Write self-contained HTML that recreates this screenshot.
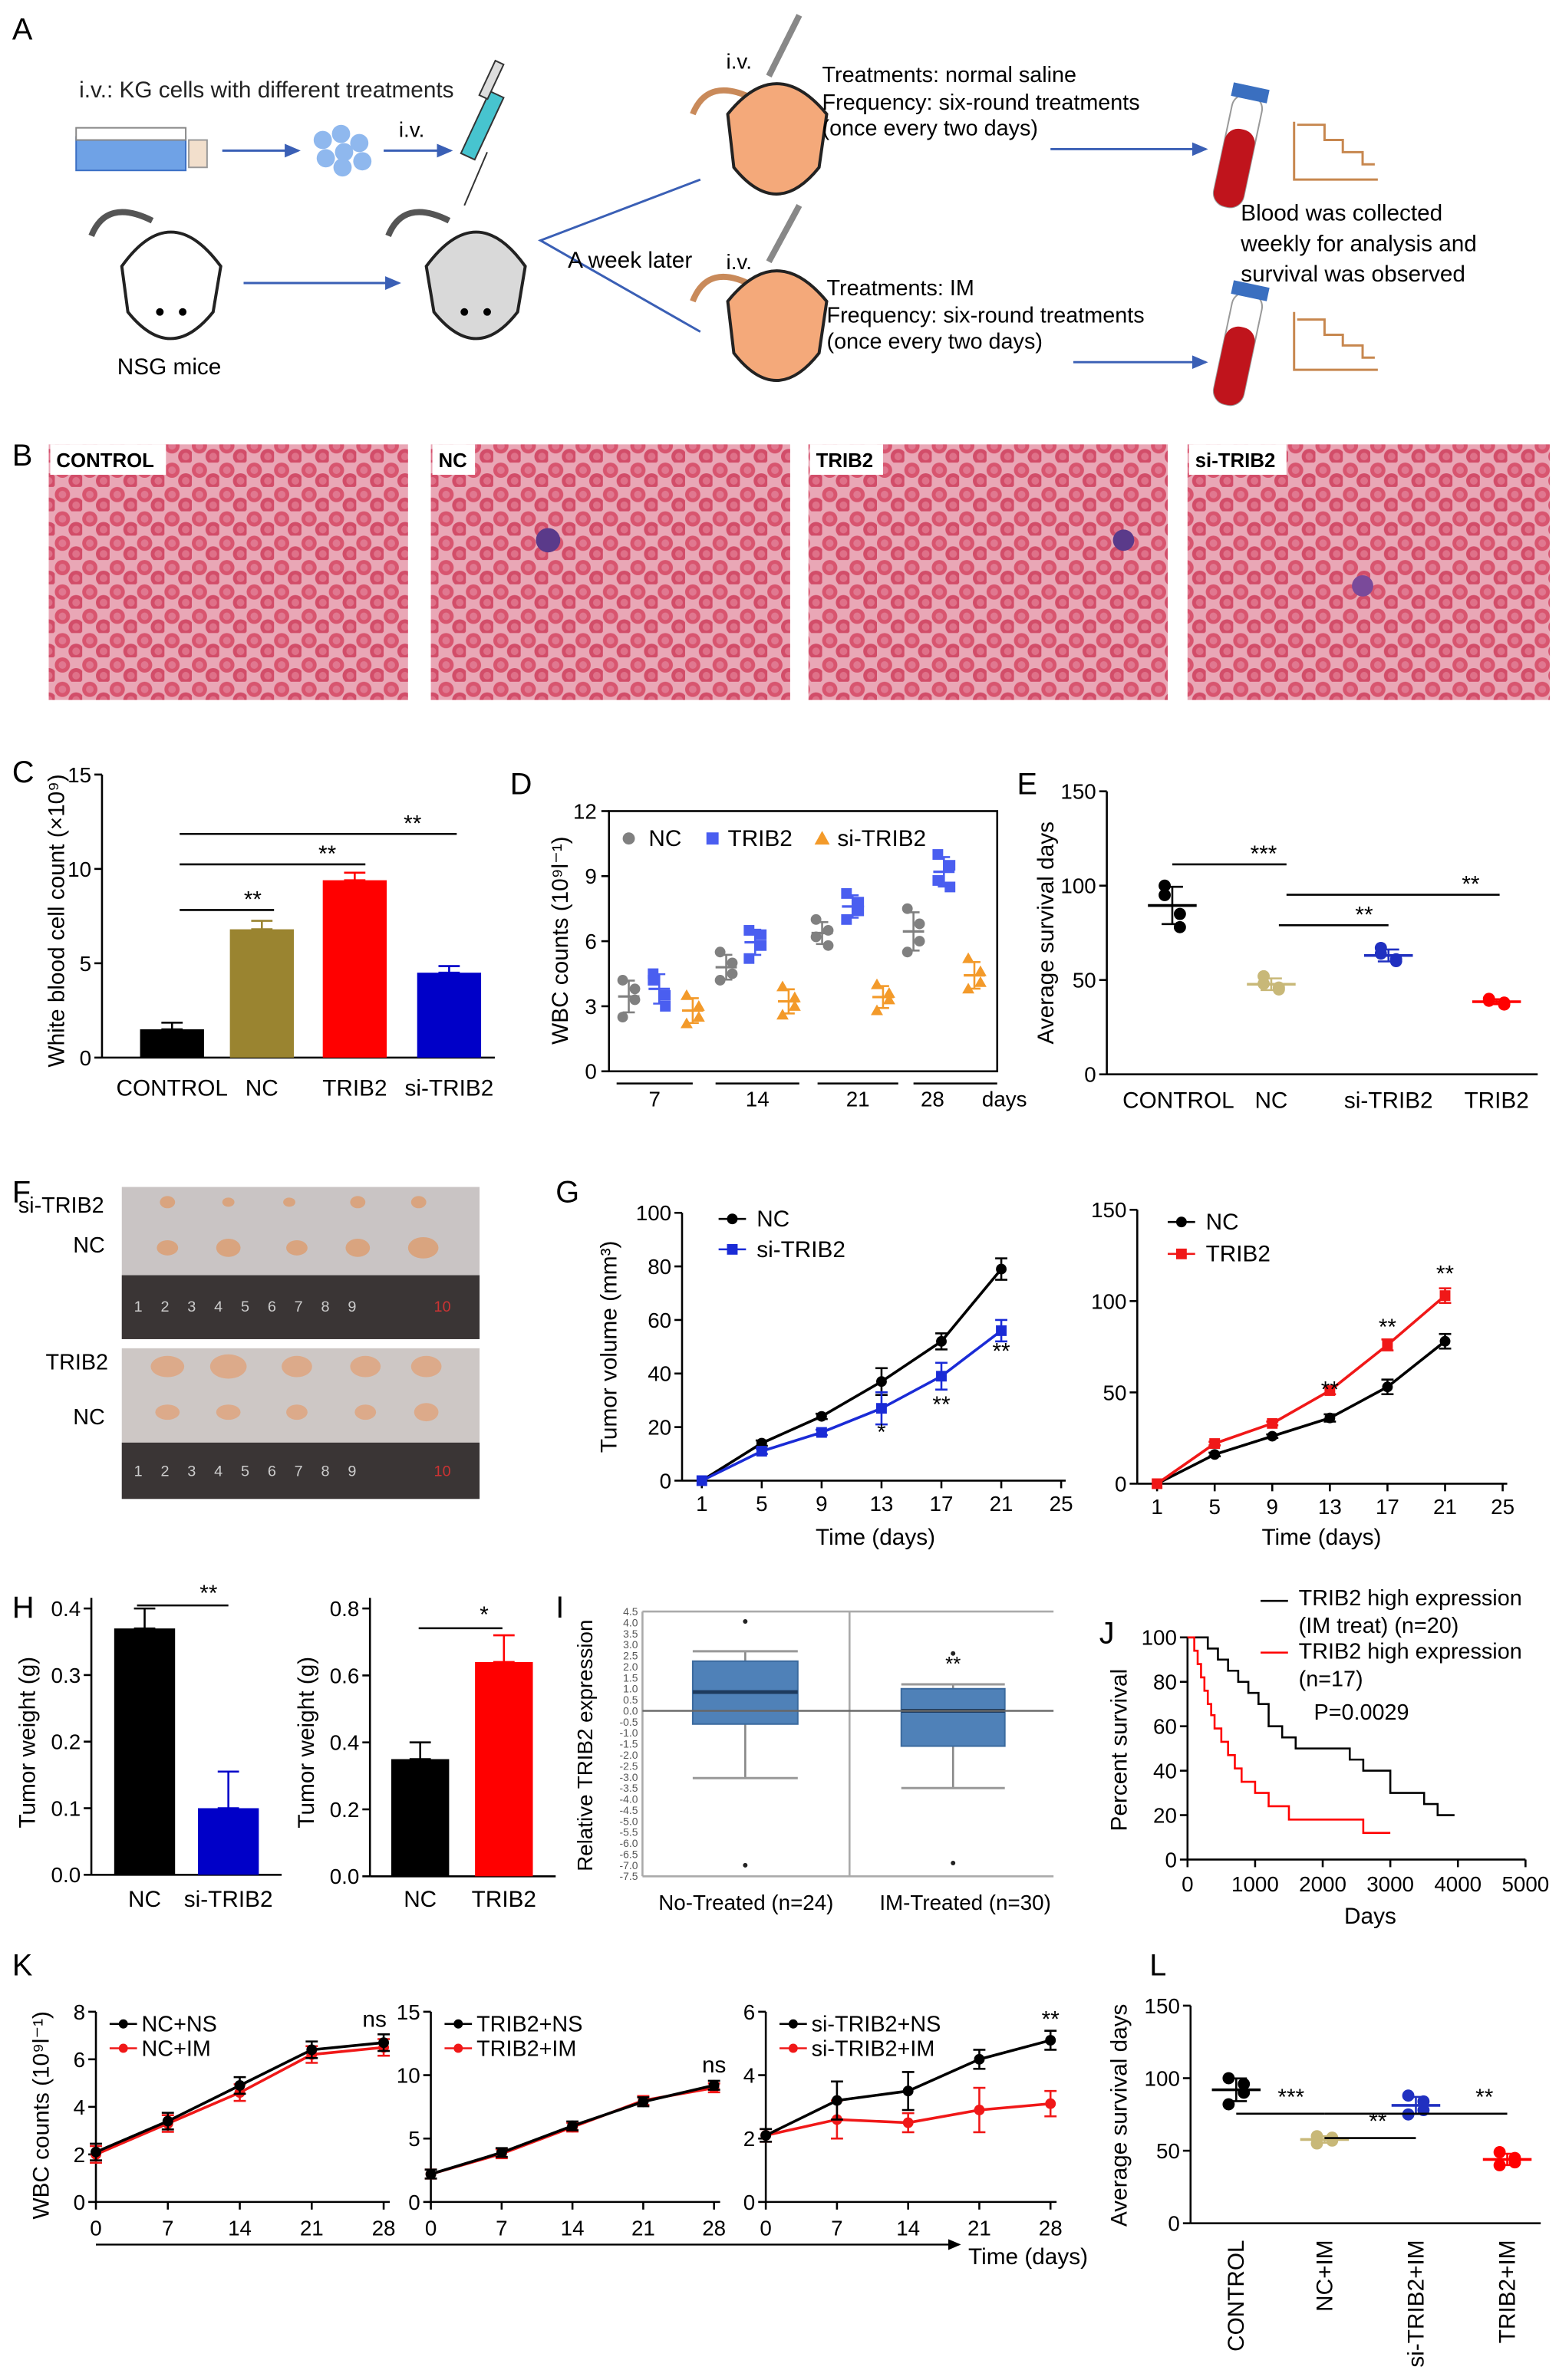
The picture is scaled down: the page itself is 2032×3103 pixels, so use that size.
<!DOCTYPE html>
<html><head><meta charset="utf-8"><style>
html,body{margin:0;padding:0;background:#fff}
svg{display:block;font-family:"Liberation Sans",Arial,sans-serif}
</style></head><body>
<svg id="fig" xmlns="http://www.w3.org/2000/svg" width="2032" height="3103" viewBox="0 0 1024 1564" preserveAspectRatio="none">
<defs>
<pattern id="rbc" width="18" height="16" patternUnits="userSpaceOnUse">
<rect width="18" height="16" fill="#e9a7b6"/>
<circle cx="5" cy="5" r="5" fill="#d8556f"/><circle cx="5" cy="5" r="2.5" fill="#e07890"/>
<circle cx="14" cy="12" r="5" fill="#d24d69"/><circle cx="14" cy="12" r="2.5" fill="#df7189"/>
</pattern>
<marker id="arr" markerWidth="8" markerHeight="8" refX="6" refY="3" orient="auto"><path d="M0,0 L7,3 L0,6 z" fill="#3a5fb5"/></marker>
<marker id="arrk" markerWidth="8" markerHeight="8" refX="6" refY="3" orient="auto"><path d="M0,0 L7,3 L0,6 z" fill="#000"/></marker>
</defs>

<!-- Panel A -->
<g>
<text x="8" y="26" font-size="20">A</text>
<text x="52" y="64" font-size="15" fill="#222">i.v.: KG cells with different treatments</text>
<g><rect x="50" y="90" width="72" height="22" fill="#6fa2e6" stroke="#3b6fc4"/><rect x="50" y="84" width="72" height="8" fill="#fff" stroke="#888"/><rect x="124" y="92" width="12" height="18" fill="#f2dfcc" stroke="#999"/></g>
<line x1="146" y1="99" x2="196" y2="99" stroke="#3a5fb5" stroke-width="1.5" marker-end="url(#arr)"/>
<g fill="#8fb8ee"><circle cx="212" cy="92" r="6"/><circle cx="224" cy="88" r="6"/><circle cx="236" cy="94" r="6"/><circle cx="214" cy="104" r="6"/><circle cx="226" cy="100" r="6"/><circle cx="238" cy="106" r="6"/><circle cx="225" cy="110" r="6"/></g>
<text x="262" y="90" font-size="14">i.v.</text>
<line x1="252" y1="99" x2="296" y2="99" stroke="#3a5fb5" stroke-width="1.5" marker-end="url(#arr)"/>
<g><line x1="305" y1="135" x2="320" y2="100" stroke="#333"/><rect x="312" y="60" width="10" height="45" fill="#47c4cf" stroke="#333" transform="rotate(25 317 82)"/><rect x="320" y="40" width="6" height="25" fill="#ddd" stroke="#333" transform="rotate(25 323 52)"/></g>
<g><path d="M60,155 Q70,130 100,145" stroke="#555" stroke-width="4" fill="none"/><path d="M80,175 Q112,130 145,175 L140,205 Q112,240 84,205 Z" fill="#fff" stroke="#222" stroke-width="2"/><circle cx="105" cy="205" r="2.5"/><circle cx="120" cy="205" r="2.5"/></g>
<text x="77" y="246" font-size="15">NSG mice</text>
<line x1="160" y1="186" x2="262" y2="186" stroke="#3a5fb5" stroke-width="1.5" marker-end="url(#arr)"/>
<g><path d="M255,155 Q265,130 295,145" stroke="#555" stroke-width="4" fill="none"/><path d="M280,175 Q313,130 345,175 L340,205 Q313,240 285,205 Z" fill="#d9d9d9" stroke="#222" stroke-width="2"/><circle cx="305" cy="205" r="2.5"/><circle cx="320" cy="205" r="2.5"/></g>
<polyline points="460,118 355,158 460,218" fill="none" stroke="#3a5fb5" stroke-width="1.5"/>
<text x="373" y="176" font-size="15">A week later</text>
<text x="477" y="45" font-size="14">i.v.</text>
<text x="477" y="177" font-size="14">i.v.</text>
<g><path d="M455,75 Q465,50 495,65" stroke="#c98a5a" stroke-width="4" fill="none"/><path d="M478,75 Q510,35 543,75 L538,110 Q510,145 482,110 Z" fill="#f4a97a" stroke="#222" stroke-width="2"/><line x1="505" y1="50" x2="525" y2="10" stroke="#888" stroke-width="4"/></g>
<g><path d="M455,198 Q465,172 495,188" stroke="#c98a5a" stroke-width="4" fill="none"/><path d="M478,198 Q510,158 543,198 L538,232 Q510,268 482,232 Z" fill="#f4a97a" stroke="#222" stroke-width="2"/><line x1="505" y1="172" x2="525" y2="135" stroke="#888" stroke-width="4"/></g>
<g font-size="14.5"><text x="540" y="54">Treatments: normal saline</text><text x="540" y="72">Frequency: six-round treatments</text><text x="540" y="89">(once every two days)</text></g>
<g font-size="14.5"><text x="543" y="194">Treatments: IM</text><text x="543" y="212">Frequency: six-round treatments</text><text x="543" y="229">(once every two days)</text></g>
<line x1="690" y1="98" x2="792" y2="98" stroke="#3a5fb5" stroke-width="1.5" marker-end="url(#arr)"/>
<line x1="705" y1="238" x2="792" y2="238" stroke="#3a5fb5" stroke-width="1.5" marker-end="url(#arr)"/>
<g transform="rotate(12 815 95)"><rect x="804" y="62" width="20" height="75" rx="9" fill="#fff" stroke="#999"/><rect x="804" y="85" width="20" height="52" rx="9" fill="#c0141c"/><rect x="802" y="56" width="24" height="9" fill="#3a6fc0"/></g>
<g transform="rotate(12 815 225)"><rect x="804" y="192" width="20" height="75" rx="9" fill="#fff" stroke="#999"/><rect x="804" y="215" width="20" height="52" rx="9" fill="#c0141c"/><rect x="802" y="186" width="24" height="9" fill="#3a6fc0"/></g>
<polyline points="850,80 850,118 905,118" fill="none" stroke="#c7874f" stroke-width="1.5"/>
<polyline points="852,82 870,82 870,92 882,92 882,100 895,100 895,108 903,108" fill="none" stroke="#c7874f" stroke-width="1.5"/>
<polyline points="850,205 850,243 905,243" fill="none" stroke="#c7874f" stroke-width="1.5"/>
<polyline points="852,210 870,210 870,220 882,220 882,227 895,227 895,235 903,235" fill="none" stroke="#c7874f" stroke-width="1.5"/>
<g font-size="15"><text x="815" y="145">Blood was collected</text><text x="815" y="165">weekly for analysis and</text><text x="815" y="185">survival was observed</text></g>
</g>

<!-- Panel B -->
<text x="8" y="306" font-size="20">B</text>
<g><rect x="32" y="292" width="236" height="168" fill="url(#rbc)"/><rect x="33" y="292" width="76" height="20" fill="#fff"/><text x="37" y="307" font-size="13" font-weight="bold">CONTROL</text></g>
<g><rect x="283" y="292" width="236" height="168" fill="url(#rbc)"/><rect x="284" y="292" width="28" height="20" fill="#fff"/><text x="288" y="307" font-size="13" font-weight="bold">NC</text><circle cx="360" cy="355" r="8" fill="#5a3a8a"/></g>
<g><rect x="531" y="292" width="236" height="168" fill="url(#rbc)"/><rect x="532" y="292" width="48" height="20" fill="#fff"/><text x="536" y="307" font-size="13" font-weight="bold">TRIB2</text><circle cx="738" cy="355" r="7" fill="#5a3a8a"/></g>
<g><rect x="780" y="292" width="238" height="168" fill="url(#rbc)"/><rect x="781" y="292" width="64" height="20" fill="#fff"/><text x="785" y="307" font-size="13" font-weight="bold">si-TRIB2</text><circle cx="895" cy="385" r="7" fill="#7a4a9a"/></g>

<!-- Panel F photos -->
<text x="8" y="790" font-size="20">F</text>
<g><rect x="80" y="780" width="235" height="100" fill="#c9c4c4"/><rect x="80" y="838" width="235" height="42" fill="#3a3535"/><g fill="#d9a47f"><ellipse cx="110" cy="790" rx="5" ry="4"/><ellipse cx="150" cy="790" rx="4" ry="3"/><ellipse cx="190" cy="790" rx="4" ry="3"/><ellipse cx="235" cy="790" rx="5" ry="4"/><ellipse cx="275" cy="790" rx="5" ry="4"/><ellipse cx="110" cy="820" rx="7" ry="5"/><ellipse cx="150" cy="820" rx="8" ry="6"/><ellipse cx="195" cy="820" rx="7" ry="5"/><ellipse cx="235" cy="820" rx="8" ry="6"/><ellipse cx="278" cy="820" rx="10" ry="7"/></g><text x="88" y="862" font-size="10" fill="#ccc" letter-spacing="12">123456789</text><text x="285" y="862" font-size="10" fill="#c33">10</text></g>
<g><rect x="80" y="886" width="235" height="99" fill="#cdc7c5"/><rect x="80" y="948" width="235" height="37" fill="#3a3535"/><g fill="#dcaa8a"><ellipse cx="110" cy="898" rx="11" ry="7"/><ellipse cx="150" cy="898" rx="12" ry="8"/><ellipse cx="195" cy="898" rx="10" ry="7"/><ellipse cx="240" cy="898" rx="10" ry="7"/><ellipse cx="280" cy="898" rx="10" ry="7"/><ellipse cx="110" cy="928" rx="8" ry="5"/><ellipse cx="150" cy="928" rx="8" ry="5"/><ellipse cx="195" cy="928" rx="7" ry="5"/><ellipse cx="240" cy="928" rx="7" ry="5"/><ellipse cx="280" cy="928" rx="8" ry="6"/></g><text x="88" y="970" font-size="10" fill="#ccc" letter-spacing="12">123456789</text><text x="285" y="970" font-size="10" fill="#c33">10</text></g>
<g font-size="14.5"><text x="12" y="797">si-TRIB2</text><text x="48" y="823">NC</text><text x="30" y="900">TRIB2</text><text x="48" y="936">NC</text></g>

<g id="charts"></g>
</svg>
<script>
// ---------- data ----------
const cCats=['CONTROL','NC','TRIB2','si-TRIB2'];
const cVals=[1.5,6.8,9.4,4.5];
const cErr=[0.35,0.45,0.4,0.35];
const cTicks=[0,5,10,15];

const dDays=['7','14','21','28'];
const dNC=[[4.2,3.3,2.5,3.8],[5.5,4.5,4.2,5.0],[7.0,5.8,6.2,6.5],[7.5,6.0,5.5,6.8]];
const dTRIB2=[[4.5,3.5,4.2,3.0],[6.5,5.8,5.2,6.3],[8.2,7.4,7.0,7.8],[10.0,8.5,8.8,9.5]];
const dSI=[[3.5,2.5,2.2,3.0],[3.9,3.0,2.6,3.4],[4.0,3.3,2.8,3.6],[5.2,4.1,3.8,4.6]];
const dTicks=[0,3,6,9,12];

const eCats=['CONTROL','NC','si-TRIB2','TRIB2'];
const ePts=[[100,85,95,78],[52,46,48,45],[67,61,64,60],[40,37,39,38]];
const eTicks=[0,50,100,150];

const gDays=[1,5,9,13,17,21];
const gNC=[0,14,24,37,52,79];
const gNCerr=[0,1,1,5,3,4];
const gSI=[0,11,18,27,39,56];
const gSIerr=[0,1,1,6,5,4];
const gNC2=[0,16,26,36,53,78];
const gNC2err=[0,1,1,2,4,4];
const gTR=[0,22,33,51,76,103];
const gTRerr=[0,1,1,2,3,4];

const hVals1=[0.37,0.10];
const hErr1=[0.03,0.055];
const hVals2=[0.35,0.64];
const hErr2=[0.05,0.08];

const iBox1=[-3.05,-0.6,0.85,2.25,2.7];
const iOut1=[4.05,-7.0];
const iBox2=[-3.5,-1.6,0.0,1.0,1.2];
const iOut2=[2.6,-6.9];

const jT1=[0,300,450,600,750,900,1050,1200,1400,1600,2400,2600,3000,3500,3700,3950];
const jS1=[100,95,90,85,80,75,70,60,55,50,45,40,30,25,20,20];
const jT2=[0,100,150,200,250,300,350,400,500,600,700,800,1000,1200,1500,2600,3000];
const jS2=[100,94,88,82,76,70,65,59,53,47,41,35,30,24,18,12,12];

const kDays=[0,7,14,21,28];
const kNCNS=[2.1,3.4,4.9,6.4,6.7];
const kNCIM=[2.0,3.3,4.6,6.2,6.5];
const kTRNS=[2.2,3.9,6.0,7.9,9.2];
const kTRIM=[2.2,3.8,5.9,8.0,9.0];
const kSINS=[2.1,3.2,3.5,4.5,5.1];
const kSINSerr=[0.2,0.6,0.6,0.3,0.3];
const kSIIM=[2.1,2.6,2.5,2.9,3.1];
const kSIIMerr=[0.2,0.6,0.3,0.7,0.4];

const lCats=['CONTROL','NC+IM','si-TRIB2+IM','TRIB2+IM'];
const lPts=[[100,90,82,96],[60,57,55,59],[88,78,75,84],[49,42,40,45]];

// ---------- helpers ----------
const NS='http://www.w3.org/2000/svg';
const root=document.getElementById('charts');
function mk(tag,a,name,parent){
  const el=document.createElementNS(NS,tag);
  for(const k in a) el.setAttribute(k,a[k]);
  
  
  (parent||root).appendChild(el);return el;
}
function tx(x,y,s,size,name,opt){
  opt=opt||{};
  const a={x:x,y:y,'font-size':size,'text-anchor':opt.anchor||'start',fill:opt.fill||'#000'};
  if(opt.rot) a.transform='rotate('+opt.rot+' '+x+' '+y+')';
  if(opt.weight) a['font-weight']=opt.weight;
  const t=mk('text',a,name,opt.parent);t.textContent=s;return t;
}
function ln(x1,y1,x2,y2,name,col,w){return mk('line',{x1:x1,y1:y1,x2:x2,y2:y2,stroke:col||'#000','stroke-width':w||1.3},name);}
function lin(d0,d1,r0,r1){return v=>r0+(v-d0)*(r1-r0)/(d1-d0);}
function yAxis(x,y0,y1,ticks,sc,name,size,fmt){
  ln(x,y0,x,y1,name+'-line');
  ticks.forEach(t=>{const y=sc(t);ln(x-5,y,x,y,name+'-tick');tx(x-7,y+5,fmt?fmt(t):String(t),size||14,name+'-label',{anchor:'end'});});
}
function mean(a){return a.reduce((s,v)=>s+v,0)/a.length;}
function sd(a){const m=mean(a);return Math.sqrt(a.reduce((s,v)=>s+(v-m)*(v-m),0)/(a.length-1));}
function errbar(x,ym,yl,yh,w,col,name){ln(x,yl,x,yh,name,col);ln(x-w,yl,x+w,yl,name,col);ln(x-w,yh,x+w,yh,name,col);}

// ---------- Panel C ----------
tx(8,514,'C',20,'panel-label-c');
{const y=lin(0,15,695,509);yAxis(67,695,509,cTicks,y,'c-y-axis',14);
ln(67,695,325,695,'c-x-axis');
const xs=[113,172,233,295];const cols=['#000','#9a8430','#f00','#0000c8'];
cCats.forEach((c,i)=>{mk('rect',{x:xs[i]-21,y:y(cVals[i]),width:42,height:695-y(cVals[i]),fill:cols[i]},'bar-'+c.toLowerCase());
errbar(xs[i],0,y(cVals[i]),y(cVals[i]+cErr[i]),7,cols[i],'c-error-bar');
tx(xs[i],720,c,15,'c-x-label',{anchor:'middle'});});
ln(118,598,180,598,'c-sig-line');tx(166,596,'**',15,'c-sig-mark',{anchor:'middle'});
ln(118,568,240,568,'c-sig-line');tx(215,566,'**',15,'c-sig-mark',{anchor:'middle'});
ln(118,548,300,548,'c-sig-line');tx(271,546,'**',15,'c-sig-mark',{anchor:'middle'});
tx(42,605,'White blood cell count (×10⁹)',15,'c-y-title',{anchor:'middle',rot:-90});}

// ---------- Panel D ----------
tx(335,522,'D',20,'panel-label-d');
{const y=lin(0,12,704,533);
mk('rect',{x:400,y:533,width:255,height:171,fill:'none',stroke:'#000','stroke-width':1.3},'d-frame');
dTicks.forEach(t=>{ln(395,y(t),400,y(t),'d-tick');tx(392,y(t)+5,String(t),14,'d-y-label',{anchor:'end'});});
const gx=[[413,433,455],[477,496,518],[540,560,580],[600,620,640]];
const ul=[[405,455],[470,525],[537,590],[600,655]];
dDays.forEach((d,i)=>{ln(ul[i][0],712,ul[i][1],712,'d-group-underline');tx((ul[i][0]+ul[i][1])/2-(i==3?15:0),727,d,14,'d-x-label',{anchor:'middle'});
[[dNC,'#808080','circle'],[dTRIB2,'#4a5ef0','square'],[dSI,'#f39a2a','triangle']].forEach((s,j)=>{
const pts=s[0][i];const x=gx[i][j];const m=mean(pts),e=sd(pts);
pts.forEach((v,k)=>{const px=x+(k%2?4:-4),py=y(v);
if(s[2]=='circle')mk('circle',{cx:px,cy:py,r:3.5,fill:s[1]},'d-point');
else if(s[2]=='square')mk('rect',{x:px-3.5,y:py-3.5,width:7,height:7,fill:s[1]},'d-point');
else mk('path',{d:`M${px},${py-4} L${px+4},${py+3} L${px-4},${py+3}Z`,fill:s[1]},'d-point');});
ln(x-7,y(m),x+7,y(m),'d-mean',s[1],1.6);errbar(x,0,y(m-e),y(m+e),4,s[1],'d-error');});});
tx(645,727,'days',14,'d-days-label');
mk('circle',{cx:413,cy:551,r:4,fill:'#808080'},'d-legend-nc');tx(426,556,'NC',15,'d-legend-text');
mk('rect',{x:464,y:547,width:8,height:8,fill:'#4a5ef0'},'d-legend-trib2');tx(478,556,'TRIB2',15,'d-legend-text');
mk('path',{d:'M540,546 L545,555 L535,555Z',fill:'#f39a2a'},'d-legend-si');tx(550,556,'si-TRIB2',15,'d-legend-text');
tx(373,618,'WBC counts (10⁹l⁻¹)',15,'d-y-title',{anchor:'middle',rot:-90});}

// ---------- Panel E ----------
tx(668,522,'E',20,'panel-label-e');
{const y=lin(0,150,706,520);yAxis(727,706,520,eTicks,y,'e-y-axis',14);ln(727,706,1010,706,'e-x-axis');
const xs=[770,835,912,983];const cols=['#000','#c8b878','#2030c0','#f00'];
eCats.forEach((c,i)=>{const p=ePts[i],m=mean(p),e=sd(p);
p.forEach((v,k)=>mk('circle',{cx:xs[i]+(k%2?5:-5),cy:y(v),r:4,fill:cols[i]},'e-point'));
ln(xs[i]-16,y(m),xs[i]+16,y(m),'e-mean',cols[i],1.8);errbar(xs[i],0,y(m-e),y(m+e),7,cols[i],'e-error');
tx(xs[i]+(i==0?4:0),728,c,15,'e-x-label',{anchor:'middle'});});
ln(770,568,845,568,'e-sig-line');tx(830,566,'***',15,'e-sig-mark',{anchor:'middle'});
ln(840,608,912,608,'e-sig-line');tx(896,606,'**',15,'e-sig-mark',{anchor:'middle'});
ln(845,588,985,588,'e-sig-line');tx(966,586,'**',15,'e-sig-mark',{anchor:'middle'});
tx(692,613,'Average survival days',15,'e-y-title',{anchor:'middle',rot:-90});}

// ---------- Panel G ----------
tx(365,790,'G',20,'panel-label-g');
function lineChart(xsc,ysc,xs,ys,err,col,marker,name){
  let d='';xs.forEach((v,i)=>{d+=(i?'L':'M')+xsc(v)+','+ysc(ys[i]);});
  mk('path',{d:d,fill:'none',stroke:col,'stroke-width':1.8},name+'-line');
  xs.forEach((v,i)=>{const x=xsc(v),y=ysc(ys[i]);
  if(err&&err[i])errbar(x,0,ysc(ys[i]-err[i]),ysc(ys[i]+err[i]),4,col,name+'-error');
  if(marker=='sq')mk('rect',{x:x-3.5,y:y-3.5,width:7,height:7,fill:col},name+'-marker');
  else mk('circle',{cx:x,cy:y,r:3.5,fill:col},name+'-marker');});
}
{const y=lin(0,100,973,797),x=lin(1,25,461,697);yAxis(448,973,797,[0,20,40,60,80,100],y,'g1-y-axis',14);
ln(448,973,700,973,'g1-x-axis');[1,5,9,13,17,21,25].forEach(t=>{ln(x(t),973,x(t),978,'g1-x-tick');tx(x(t),993,String(t),14,'g1-x-label',{anchor:'middle'});});
lineChart(x,y,gDays,gNC,gNCerr,'#000','c','g1-nc');lineChart(x,y,gDays,gSI,gSIerr,'#1a2bd6','sq','g1-si');
tx(x(13),946,'*',15,'g1-sig',{anchor:'middle'});tx(x(17),928,'**',15,'g1-sig',{anchor:'middle'});tx(x(21),893,'**',15,'g1-sig',{anchor:'middle'});
ln(472,801,490,801,'g1-legend-nc');mk('circle',{cx:481,cy:801,r:3.5},'g1-legend-nc-marker');tx(497,806,'NC',15,'g1-legend-text');
ln(472,821,490,821,'g1-legend-si','#1a2bd6');mk('rect',{x:477.5,y:817.5,width:7,height:7,fill:'#1a2bd6'},'g1-legend-si-marker');tx(497,826,'si-TRIB2',15,'g1-legend-text');
tx(575,1015,'Time (days)',15,'g1-x-title',{anchor:'middle'});tx(405,885,'Tumor volume (mm³)',15,'g1-y-title',{anchor:'middle',rot:-90});}
{const y=lin(0,150,975,795),x=lin(1,25,760,987);yAxis(747,975,795,[0,50,100,150],y,'g2-y-axis',14);
ln(747,975,990,975,'g2-x-axis');[1,5,9,13,17,21,25].forEach(t=>{ln(x(t),975,x(t),980,'g2-x-tick');tx(x(t),995,String(t),14,'g2-x-label',{anchor:'middle'});});
lineChart(x,y,gDays,gNC2,gNC2err,'#000','c','g2-nc');lineChart(x,y,gDays,gTR,gTRerr,'#f01818','sq','g2-trib2');
tx(x(13),918,'**',15,'g2-sig',{anchor:'middle'});tx(x(17),877,'**',15,'g2-sig',{anchor:'middle'});tx(x(21),842,'**',15,'g2-sig',{anchor:'middle'});
ln(767,803,785,803,'g2-legend-nc');mk('circle',{cx:776,cy:803,r:3.5},'g2-legend-nc-marker');tx(792,808,'NC',15,'g2-legend-text');
ln(767,824,785,824,'g2-legend-trib2','#f01818');mk('rect',{x:772.5,y:820.5,width:7,height:7,fill:'#f01818'},'g2-legend-trib2-marker');tx(792,829,'TRIB2',15,'g2-legend-text');
tx(868,1015,'Time (days)',15,'g2-x-title',{anchor:'middle'});}

// ---------- Panel H ----------
tx(8,1063,'H',20,'panel-label-h');
{const y=lin(0,0.4,1232,1057);yAxis(60,1232,1050,[0,0.1,0.2,0.3,0.4],y,'h1-y-axis',14,t=>t.toFixed(1));ln(60,1232,185,1232,'h1-x-axis');
const xs=[95,150],cols=['#000','#0000c8'],labs=['NC','si-TRIB2'];
hVals1.forEach((v,i)=>{mk('rect',{x:xs[i]-20,y:y(v),width:40,height:1232-y(v),fill:cols[i]},'h1-bar-'+labs[i].toLowerCase());errbar(xs[i],0,y(v),y(v+hErr1[i]),7,cols[i],'h1-error');tx(xs[i],1253,labs[i],15,'h1-x-label',{anchor:'middle'});});
ln(90,1055,150,1055,'h1-sig-line');tx(137,1052,'**',15,'h1-sig',{anchor:'middle'});
tx(23,1145,'Tumor weight (g)',15,'h1-y-title',{anchor:'middle',rot:-90});}
{const y=lin(0,0.8,1233,1057);yAxis(243,1233,1050,[0,0.2,0.4,0.6,0.8],y,'h2-y-axis',14,t=>t.toFixed(1));ln(243,1233,365,1233,'h2-x-axis');
const xs=[276,331],cols=['#000','#f00'],labs=['NC','TRIB2'];
hVals2.forEach((v,i)=>{mk('rect',{x:xs[i]-19,y:y(v),width:38,height:1233-y(v),fill:cols[i]},'h2-bar-'+labs[i].toLowerCase());errbar(xs[i],0,y(v),y(v+hErr2[i]),7,cols[i],'h2-error');tx(xs[i],1253,labs[i],15,'h2-x-label',{anchor:'middle'});});
ln(275,1070,330,1070,'h2-sig-line');tx(318,1066,'*',15,'h2-sig',{anchor:'middle'});
tx(206,1145,'Tumor weight (g)',15,'h2-y-title',{anchor:'middle',rot:-90});}

// ---------- Panel I ----------
tx(365,1063,'I',20,'panel-label-i');
{const y=lin(4.5,-7.5,1059,1233);
ln(422,1059,692,1059,'i-top-line','#aaa');ln(422,1233,692,1233,'i-bottom-line','#aaa');ln(422,1059,422,1233,'i-left-axis','#aaa');ln(558,1059,558,1233,'i-divider','#aaa');
for(let t=4.5;t>=-7.51;t-=0.5){tx(419,y(t)+2.5,t.toFixed(1),7,'i-y-label',{anchor:'end',fill:'#555'});}
function box(b,o,x0,x1,name){const c=(x0+x1)/2;
ln(c,y(b[0]),c,y(b[1]),name+'-whisker','#888');ln(c,y(b[3]),c,y(b[4]),name+'-whisker','#888');
ln(x0,y(b[0]),x1,y(b[0]),name+'-cap','#999',1.5);ln(x0,y(b[4]),x1,y(b[4]),name+'-cap','#999',1.5);
mk('rect',{x:x0,y:y(b[3]),width:x1-x0,height:y(b[1])-y(b[3]),fill:'#4f81b8',stroke:'#3b6a9e'},name+'-box');
ln(x0,y(b[2]),x1,y(b[2]),name+'-median','#1d3a5e',2.5);
o.forEach(v=>mk('circle',{cx:c,cy:y(v),r:1.5,fill:'#222'},name+'-outlier'));}
box(iBox1,iOut1,455,524,'i-no-treated');box(iBox2,iOut2,592,660,'i-im-treated');
ln(422,y(0),692,y(0),'i-zero-line','#666',1.2);
tx(626,y(2.1)+4,'**',13,'i-sig',{anchor:'middle'});
tx(490,1255,'No-Treated (n=24)',14,'i-x-label',{anchor:'middle'});tx(634,1255,'IM-Treated (n=30)',14,'i-x-label',{anchor:'middle'});
tx(389,1147,'Relative TRIB2 expression',14,'i-y-title',{anchor:'middle',rot:-90});}

// ---------- Panel J ----------
tx(722,1080,'J',20,'panel-label-j');
{const y=lin(0,100,1222,1076),x=lin(0,5000,780,1002);yAxis(780,1222,1076,[0,20,40,60,80,100],y,'j-y-axis',14);
ln(780,1222,1002,1222,'j-x-axis');[0,1000,2000,3000,4000,5000].forEach(t=>{ln(x(t),1222,x(t),1227,'j-x-tick');tx(x(t),1243,String(t),14,'j-x-label',{anchor:'middle'});});
function km(T,S,col,name){let d='M'+x(T[0])+','+y(S[0]);for(let i=1;i<T.length;i++){d+='H'+x(T[i])+'V'+y(S[i]);}
mk('path',{d:d,fill:'none',stroke:col,'stroke-width':1.3},name);}
km(jT1,jS1,'#000','j-curve-im-treat');km(jT2,jS2,'#f00','j-curve-high');
ln(828,1052,846,1052,'j-legend-black');tx(853,1055,'TRIB2 high expression',14.5,'j-legend-text');tx(853,1073,'(IM treat) (n=20)',14.5,'j-legend-text');
ln(828,1086,846,1086,'j-legend-red','#f00');tx(853,1090,'TRIB2 high expression',14.5,'j-legend-text');tx(853,1108,'(n=17)',14.5,'j-legend-text');
tx(863,1130,'P=0.0029',14.5,'j-p-value');
tx(900,1264,'Days',15,'j-x-title',{anchor:'middle'});tx(740,1150,'Percent survival',15,'j-y-title',{anchor:'middle',rot:-90});}

// ---------- Panel K ----------
tx(8,1298,'K',20,'panel-label-k');
function kPanel(x0,x1,ymax,ticks,a,b,ea,eb,labA,labB,name){
  const y=lin(0,ymax,1447,1322),x=lin(0,28,x0,x1);yAxis(x0,1447,1322,ticks,y,name+'-y-axis',14);
  ln(x0,1447,x1+4,1447,name+'-x-axis');kDays.forEach(t=>{ln(x(t),1447,x(t),1452,name+'-x-tick');tx(x(t),1469,String(t),14,name+'-x-label',{anchor:'middle'});});
  const dea=ea||a.map(()=>0.35),deb=eb||b.map(()=>0.35);
  lineChart(x,y,kDays,b,deb,'#f01818','c',name+'-im');lineChart(x,y,kDays,a,dea,'#000','c',name+'-ns');
  ln(x0+9,1330,x0+27,1330,name+'-legend-ns');mk('circle',{cx:x0+18,cy:1330,r:3},name+'-legend-ns-marker');tx(x0+30,1335,labA,14.5,name+'-legend-text');
  ln(x0+9,1346,x0+27,1346,name+'-legend-im','#f01818');mk('circle',{cx:x0+18,cy:1346,r:3,fill:'#f01818'},name+'-legend-im-marker');tx(x0+30,1351,labB,14.5,name+'-legend-text');
}
kPanel(63,252,8,[0,2,4,6,8],kNCNS,kNCIM,null,null,'NC+NS','NC+IM','k1');
kPanel(283,469,15,[0,5,10,15],kTRNS,kTRIM,null,null,'TRIB2+NS','TRIB2+IM','k2');
kPanel(503,690,6,[0,2,4,6],kSINS,kSIIM,kSINSerr,kSIIMerr,'si-TRIB2+NS','si-TRIB2+IM','k3');
tx(246,1332,'ns',15,'k1-sig',{anchor:'middle'});tx(469,1362,'ns',15,'k2-sig',{anchor:'middle'});tx(690,1332,'**',15,'k3-sig',{anchor:'middle'});
mk('line',{x1:63,y1:1475,x2:630,y2:1475,stroke:'#000','stroke-width':1.2,'marker-end':'url(#arrk)'},'k-time-arrow');
tx(636,1488,'Time (days)',15,'k-x-title');tx(32,1390,'WBC counts (10⁹l⁻¹)',15,'k-y-title',{anchor:'middle',rot:-90});

// ---------- Panel L ----------
tx(755,1298,'L',20,'panel-label-l');
{const y=lin(0,150,1461,1318);yAxis(782,1461,1318,[0,50,100,150],y,'l-y-axis',14);ln(782,1461,1012,1461,'l-x-axis');
const xs=[812,870,930,990],cols=['#000','#c8b878','#2030c0','#f00'];
lCats.forEach((c,i)=>{const p=lPts[i],m=mean(p),e=sd(p);
p.forEach((v,k)=>mk('circle',{cx:xs[i]+(k%2?5:-5),cy:y(v),r:4,fill:cols[i]},'l-point'));
ln(xs[i]-16,y(m),xs[i]+16,y(m),'l-mean',cols[i],1.8);errbar(xs[i],0,y(m-e),y(m+e),7,cols[i],'l-error');
tx(xs[i]+5,1472,c,15,'l-x-label',{anchor:'end',rot:-90});});
ln(812,1389,870,1389,'l-sig-line');tx(848,1383,'***',15,'l-sig',{anchor:'middle'});
ln(870,1405,930,1405,'l-sig-line');tx(905,1399,'**',15,'l-sig',{anchor:'middle'});
ln(870,1389,990,1389,'l-sig-line');tx(975,1383,'**',15,'l-sig',{anchor:'middle'});
tx(740,1390,'Average survival days',15,'l-y-title',{anchor:'middle',rot:-90});}
</script>
</body></html>
